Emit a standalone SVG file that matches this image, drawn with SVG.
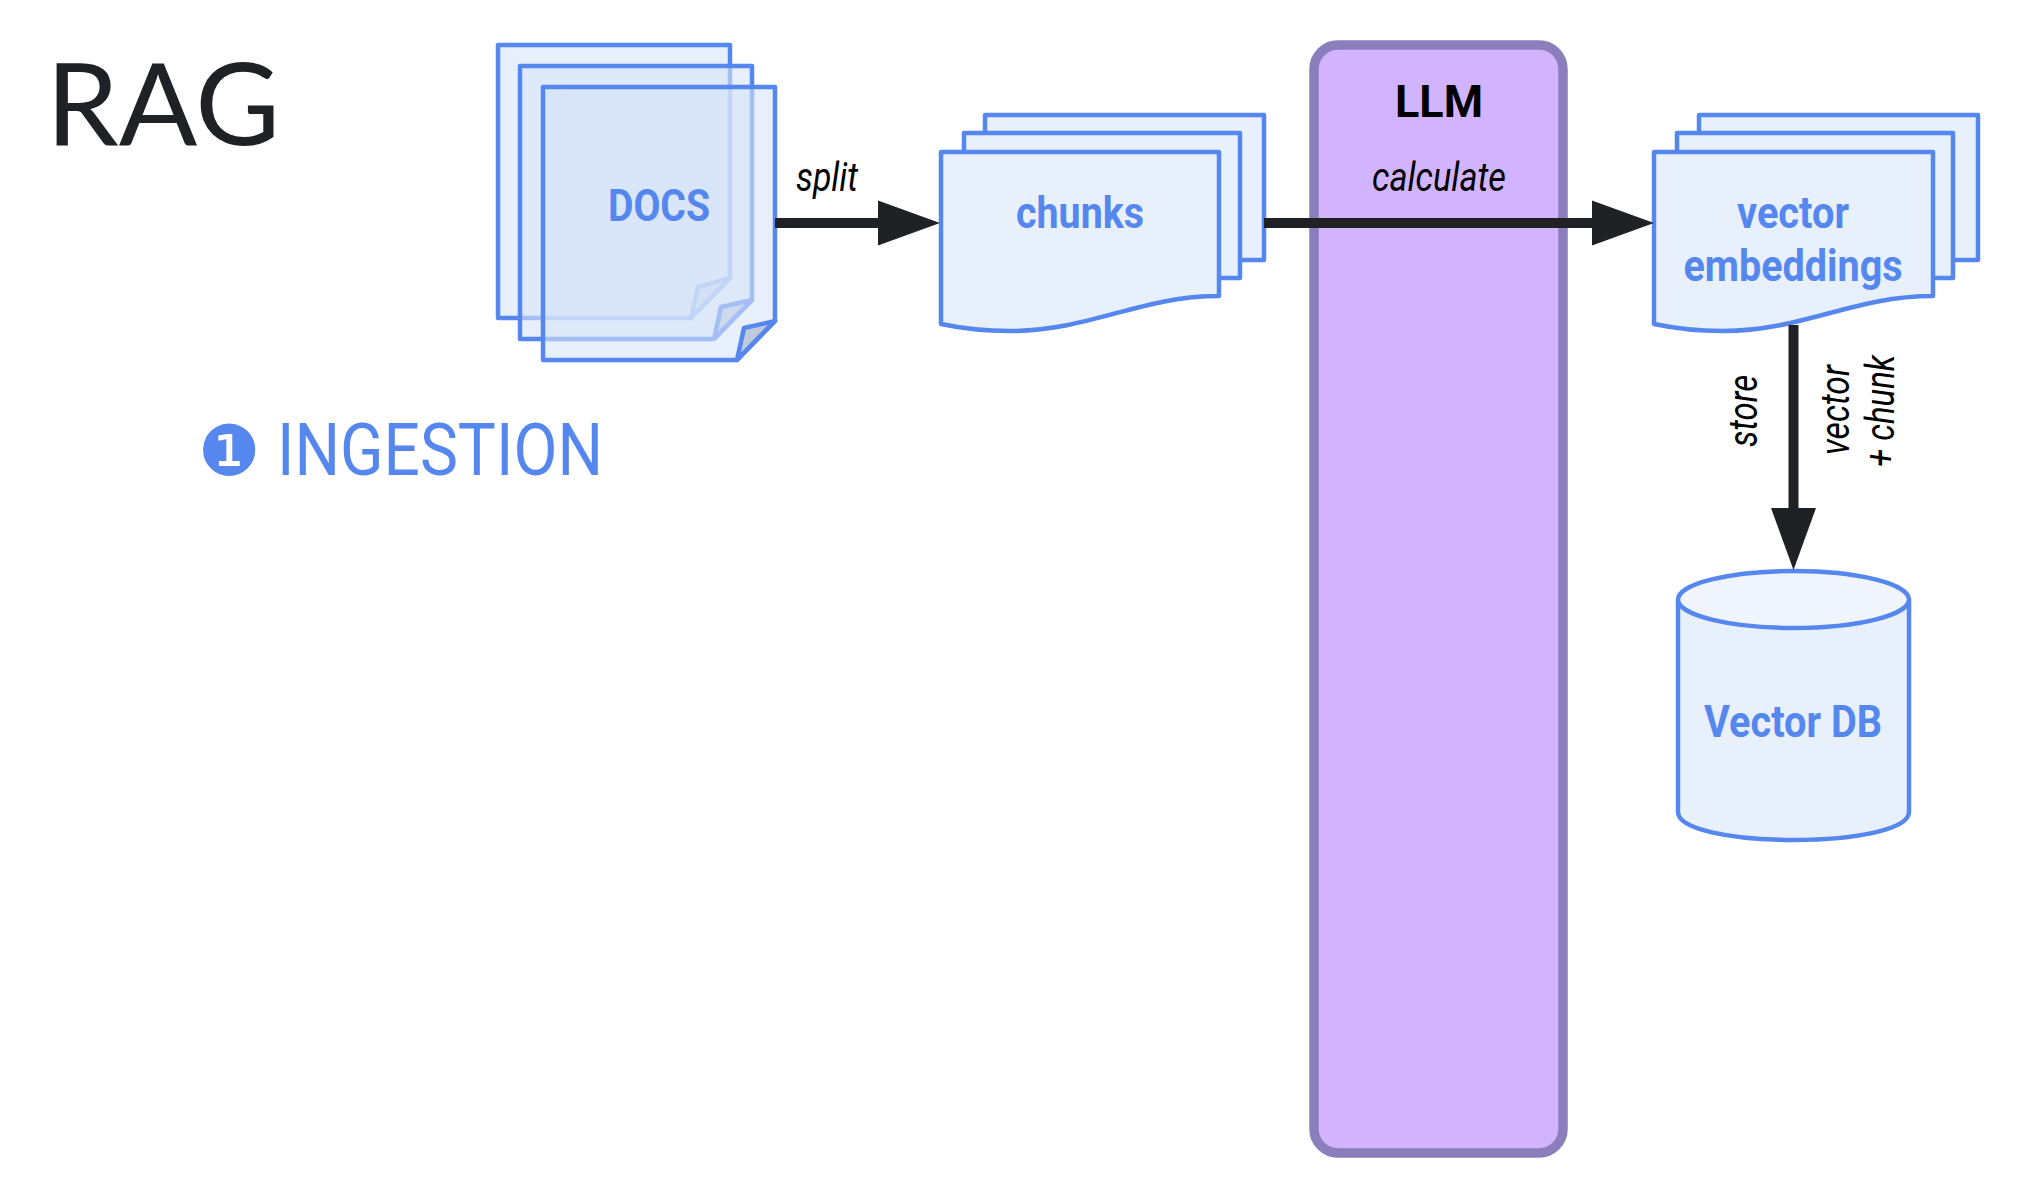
<svg xmlns="http://www.w3.org/2000/svg" width="2030" height="1192" viewBox="0 0 2030 1192">
  <style>
    .sheet { fill: #d7e4f9; fill-opacity: .6; stroke: #5587ee; stroke-width: 4.500; stroke-linejoin: round; }
    .flag { fill: #8f9db8; fill-opacity: .45; stroke: #5587ee; stroke-width: 4.500; stroke-linejoin: round; }
    .card { fill: #e8f0fb; stroke: #5587ee; stroke-width: 4.500; stroke-linejoin: round; }
    .lid { fill: #f0f5fd; stroke: #5587ee; stroke-width: 4.500; }
    .label { font-family: Roboto, "Liberation Sans", sans-serif; font-weight: 700; font-size: 45px; fill: #5587ee; text-anchor: middle; }
    .note { font-family: Roboto, "Liberation Sans", sans-serif; font-style: italic; font-size: 40px; fill: #000; }
    .wire { stroke: #202124; stroke-width: 10; fill: none; }
    .head { fill: #202124; }
  </style>
  <rect width="2030" height="1192" fill="#ffffff"/>

  <g id="title">
    <text x="46" y="145" font-family="Lato, sans-serif" font-size="115" fill="#202124" textLength="234" lengthAdjust="spacingAndGlyphs">RAG</text>
  </g>
  <g id="section">
    <text x="198" y="475" font-family="'DejaVu Serif', 'DejaVu Sans', sans-serif" font-size="70" fill="#5587ee">❶</text>
    <text x="277" y="475" font-family="Roboto, sans-serif" font-weight="400" font-size="73" fill="#5587ee" textLength="326" lengthAdjust="spacingAndGlyphs">INGESTION</text>
  </g>

  <g id="docs">
    <path class="sheet" d="M498 45H730V278L691 318H498Z"/>
    <path class="flag" d="M730 278L698 287L691 318Z"/>
    <path class="sheet" d="M520 66H752V300L714 339H520Z"/>
    <path class="flag" d="M752 300L721 307L714 339Z"/>
    <path class="sheet" d="M543 87H775V321L737 360H543Z"/>
    <path class="flag" d="M775 321L744 328L737 360Z"/>
    <text class="label" x="659" y="221" textLength="102" lengthAdjust="spacingAndGlyphs">DOCS</text>
  </g>

  <g id="chunks">
    <path class="card" d="M985 115H1264V260H985Z"/>
    <path class="card" d="M964 133H1240V278H964Z"/>
    <path class="card" d="M941 152H1219V296C1140 296 1090 331 1010 331C985 331 960 328 941 324Z"/>
    <text class="label" x="1080" y="228" textLength="128" lengthAdjust="spacingAndGlyphs">chunks</text>
  </g>

  <g id="llm">
    <rect x="1314" y="45" width="249" height="1108" rx="24" fill="#d2b3fd" stroke="#8a7ebd" stroke-width="9.500"/>
    <text x="1439" y="117" font-family="Roboto, sans-serif" font-weight="700" font-size="45" fill="#000" text-anchor="middle" textLength="88" lengthAdjust="spacingAndGlyphs">LLM</text>
    <text class="note" x="1439" y="191" text-anchor="middle" textLength="134" lengthAdjust="spacingAndGlyphs">calculate</text>
  </g>

  <g id="embeddings">
    <path class="card" d="M1699 115H1978V260H1699Z"/>
    <path class="card" d="M1677 133H1953V278H1677Z"/>
    <path class="card" d="M1654 152H1933V296C1853 296 1803 331 1723 331C1698 331 1673 328 1654 324Z"/>
    <text class="label" x="1793" y="228" textLength="112" lengthAdjust="spacingAndGlyphs">vector</text>
    <text class="label" x="1793" y="281" textLength="219" lengthAdjust="spacingAndGlyphs">embeddings</text>
  </g>

  <g id="vector-db">
    <path class="card" d="M1678 600V812C1678 829 1730 840 1793.500 840C1857 840 1909 829 1909 812V600Z"/>
    <ellipse class="lid" cx="1793.500" cy="599.500" rx="115.500" ry="28.500"/>
    <text class="label" x="1793" y="737" textLength="178" lengthAdjust="spacingAndGlyphs">Vector DB</text>
  </g>

  <g id="connectors">
    <path class="wire" d="M775 223H880"/>
    <path class="head" d="M878 200.500L940 223L878 245.500Z"/>
    <path class="wire" d="M1264 223H1594"/>
    <path class="head" d="M1592 200.500L1654 223L1592 245.500Z"/>
    <path class="wire" d="M1793.500 325V510"/>
    <path class="head" d="M1771 508L1793.500 570L1816 508Z"/>
    <text class="note" x="796" y="191" textLength="62" lengthAdjust="spacingAndGlyphs">split</text>
    <text class="note" transform="translate(1757 411) rotate(-90)" text-anchor="middle" textLength="72" lengthAdjust="spacingAndGlyphs">store</text>
    <text class="note" transform="translate(1849 410) rotate(-90)" text-anchor="middle" textLength="90" lengthAdjust="spacingAndGlyphs">vector</text>
    <text class="note" transform="translate(1894 411) rotate(-90)" text-anchor="middle" textLength="112" lengthAdjust="spacingAndGlyphs">+ chunk</text>
  </g>
</svg>
